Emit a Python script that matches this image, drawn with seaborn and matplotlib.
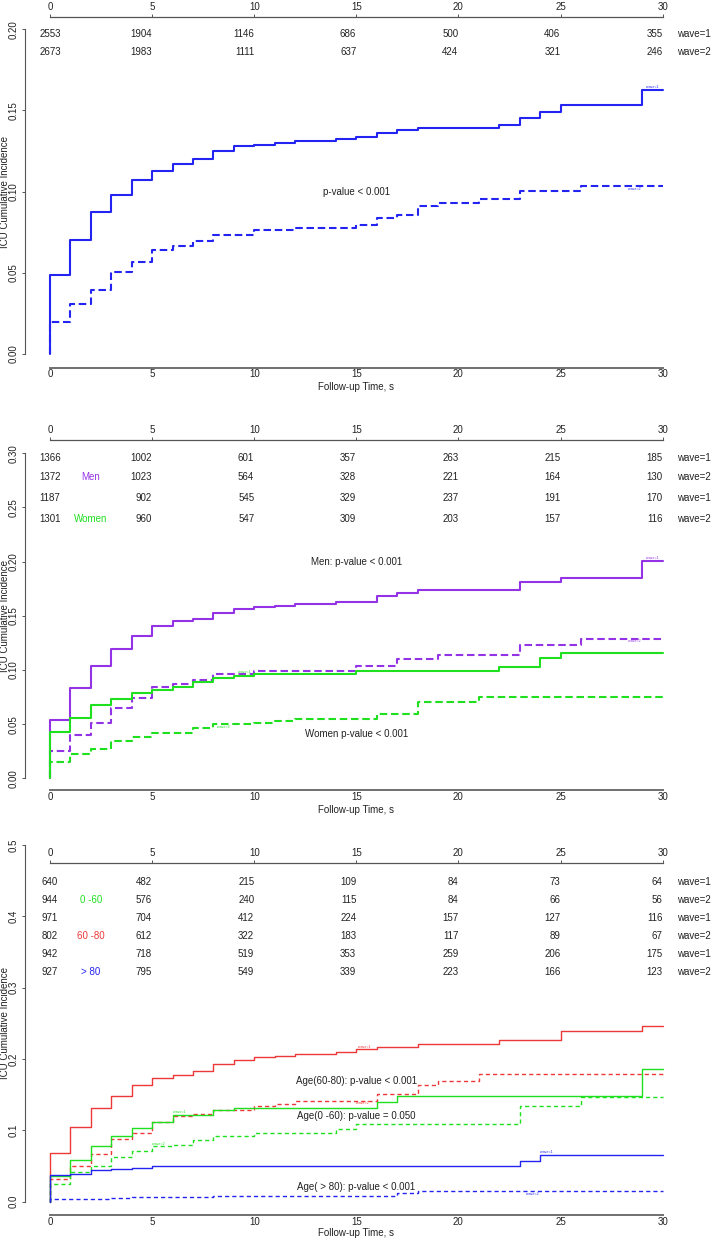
import matplotlib
matplotlib.use("Agg")
import matplotlib.pyplot as plt
import pandas as pd
import seaborn as sns

# ---------------- data ----------------
TIME_TICKS = [0, 5, 10, 15, 20, 25, 30]
T_END = 30

# Panel 1 : all patients
p1_w1_t = [0, 1, 2, 3, 4, 5, 6, 7, 8, 9, 10, 11, 12, 14, 15, 16, 17, 18, 22, 23, 24, 25, 29]
p1_w1_v = [0.0486, 0.0702, 0.0874, 0.098, 0.107, 0.113, 0.117, 0.120, 0.125, 0.128, 0.129, 0.130,
           0.131, 0.1325, 0.1335, 0.1362, 0.1377, 0.1393, 0.1409, 0.1451, 0.1492, 0.1531, 0.1625]
p1_w2_t = [0, 1, 2, 3, 4, 5, 6, 7, 8, 10, 12, 15, 16, 17, 18, 19, 21, 23, 26]
p1_w2_v = [0.020, 0.031, 0.0395, 0.0504, 0.0568, 0.064, 0.0665, 0.0695, 0.0733, 0.0761, 0.0778,
           0.0792, 0.0837, 0.0854, 0.0912, 0.0932, 0.0953, 0.1004, 0.1035]
p1_risk_w1 = [2553, 1904, 1146, 686, 500, 406, 355]
p1_risk_w2 = [2673, 1983, 1111, 637, 424, 321, 246]

# Panel 2 : by sex
men_w1_t = [0, 1, 2, 3, 4, 5, 6, 7, 8, 9, 10, 11, 12, 14, 16, 17, 18, 23, 25, 29]
men_w1_v = [0.0538, 0.083, 0.1037, 0.119, 0.1317, 0.1406, 0.1452, 0.1468, 0.153, 0.1563, 0.1578,
            0.1594, 0.1612, 0.163, 0.1683, 0.1714, 0.1738, 0.181, 0.1846, 0.2003]
men_w2_t = [0, 1, 2, 3, 4, 5, 6, 7, 8, 10, 15, 17, 19, 23, 26]
men_w2_v = [0.0252, 0.040, 0.0514, 0.0652, 0.0745, 0.084, 0.087, 0.0908, 0.096, 0.099, 0.1037,
            0.110, 0.1138, 0.123, 0.129]
wom_w1_t = [0, 1, 2, 3, 4, 5, 6, 7, 8, 9, 10, 15, 22, 24, 25]
wom_w1_v = [0.0425, 0.0554, 0.0674, 0.073, 0.079, 0.0818, 0.0846, 0.0886, 0.0929, 0.0948, 0.096,
            0.099, 0.1028, 0.1114, 0.116]
wom_w2_t = [0, 1, 2, 3, 4, 5, 7, 8, 10, 11, 12, 16, 18, 21]
wom_w2_v = [0.0148, 0.0222, 0.0268, 0.0345, 0.0385, 0.0422, 0.046, 0.0498, 0.0514, 0.053, 0.055,
            0.059, 0.070, 0.0754]
men_risk_w1 = [1366, 1002, 601, 357, 263, 215, 185]
men_risk_w2 = [1372, 1023, 564, 328, 221, 164, 130]
wom_risk_w1 = [1187, 902, 545, 329, 237, 191, 170]
wom_risk_w2 = [1301, 960, 547, 309, 203, 157, 116]

# Panel 3 : by age
a60_w1_t = [0, 1, 2, 3, 4, 5, 6, 8, 9, 16, 17, 29]
a60_w1_v = [0.036, 0.0587, 0.0776, 0.0915, 0.103, 0.1118, 0.1215, 0.1284, 0.1307, 0.14, 0.1478, 0.1857]
a60_w2_t = [0, 1, 2, 3, 4, 5, 6, 7, 8, 10, 14, 15, 23, 26]
a60_w2_v = [0.0254, 0.0416, 0.0499, 0.0624, 0.0716, 0.0776, 0.08, 0.0864, 0.0915, 0.0956, 0.1025,
            0.1095, 0.134, 0.1469]
a80_w1_t = [0, 1, 2, 3, 4, 5, 6, 7, 8, 9, 10, 11, 12, 14, 15, 16, 18, 22, 25, 29]
a80_w1_v = [0.0684, 0.1053, 0.1316, 0.1487, 0.164, 0.1732, 0.1769, 0.1834, 0.193, 0.1986, 0.2023,
            0.2042, 0.207, 0.2092, 0.2134, 0.2171, 0.2217, 0.2273, 0.2393, 0.2457]
a80_w2_t = [0, 1, 2, 3, 4, 5, 6, 7, 8, 10, 11, 12, 16, 18, 19, 21]
a80_w2_v = [0.0323, 0.0499, 0.067, 0.0878, 0.097, 0.1122, 0.12, 0.1224, 0.1284, 0.134, 0.1376,
            0.1418, 0.1515, 0.163, 0.1695, 0.1788]
aold_w1_t = [0, 1, 2, 3, 4, 5, 23, 24]
aold_w1_v = [0.037, 0.0393, 0.0448, 0.0462, 0.0476, 0.0494, 0.0568, 0.0656]
aold_w2_t = [0, 2, 3, 4, 8, 17, 18]
aold_w2_v = [0.0032, 0.0042, 0.005, 0.0065, 0.0079, 0.0115, 0.0152]
a60_risk_w1 = [640, 482, 215, 109, 84, 73, 64]
a60_risk_w2 = [944, 576, 240, 115, 84, 66, 56]
a80_risk_w1 = [971, 704, 412, 224, 157, 127, 116]
a80_risk_w2 = [802, 612, 322, 183, 117, 89, 67]
aold_risk_w1 = [942, 718, 519, 353, 259, 206, 175]
aold_risk_w2 = [927, 795, 549, 339, 223, 166, 123]

P1_YTICKS = [0.00, 0.05, 0.10, 0.15, 0.20]
P2_YTICKS = [0.00, 0.05, 0.10, 0.15, 0.20, 0.25, 0.30]
P3_YTICKS = [0.0, 0.1, 0.2, 0.3, 0.4, 0.5]

# ---------------- style ----------------
BLUE = "#2323F2"
PURPLE = "#9433E6"
GREEN = "#1EE01E"
RED = "#EE3838"
AXC = "#555555"
FS = 7.0
TINY = 2.6

sns.set_theme(style="white")
plt.rcParams["font.family"] = ["Liberation Sans", "DejaVu Sans"]

W, H = 712, 1240
fig = plt.figure(figsize=(W / 100, H / 100), dpi=100)

X0_PX, PX_PER_T = 50.0, 20.42
AX_L_PX, AX_R_PX = 25.0, 672.0


def step_frame(t, v):
    tt = [0] + list(t) + [T_END]
    vv = [0.0] + list(v) + [v[-1]]
    return pd.DataFrame({"time": tt, "cif": vv})


def make_panel(p0, p_toptick, ytick_max, bottom_px, topaxis_px, xlabel_px, yticks, fmt):
    k = (p0 - p_toptick) / ytick_max
    top_px = min(topaxis_px, p_toptick) - 1.5
    ax = fig.add_axes([AX_L_PX / W, 1 - bottom_px / H,
                       (AX_R_PX - AX_L_PX) / W, (bottom_px - top_px) / H])
    ax.set_xlim((AX_L_PX - X0_PX) / PX_PER_T, (AX_R_PX - X0_PX) / PX_PER_T)
    ax.set_ylim((p0 - bottom_px) / k, (p0 - top_px) / k)
    ax.set_facecolor("white")
    for s in ("top", "right"):
        ax.spines[s].set_visible(False)
    ax.spines["left"].set_bounds(0, ytick_max)
    ax.spines["left"].set_color(AXC)
    ax.spines["left"].set_linewidth(0.8)
    ax.spines["bottom"].set_bounds(0, T_END)
    ax.spines["bottom"].set_color("#707070")
    ax.spines["bottom"].set_linewidth(1.4)
    ax.set_yticks(yticks)
    ax.set_yticklabels([fmt.format(y) for y in yticks])
    ax.tick_params(axis="y", left=True, direction="out", length=2.5, width=0.7, color=AXC,
                   pad=2, labelsize=FS, labelrotation=90, labelcolor="#222222")
    for lab in ax.get_yticklabels():
        lab.set_verticalalignment("center")
    ax.set_xticks(TIME_TICKS)
    ax.tick_params(axis="x", bottom=True, length=0, pad=1.2, labelsize=FS, labelcolor="#222222")
    hpx = bottom_px - top_px
    sec = ax.secondary_xaxis((bottom_px - topaxis_px) / hpx)
    sec.set_xticks(TIME_TICKS)
    sec.tick_params(axis="x", top=True, direction="out", length=2.3, width=0.7, color=AXC,
                    pad=1.6, labelsize=FS, labelcolor="#222222")
    sec.spines["top"].set_bounds(0, T_END)
    sec.spines["top"].set_color(AXC)
    sec.spines["top"].set_linewidth(0.9)
    ax.set_xlabel("Follow-up Time, s", fontsize=FS, color="#222222", va="center")
    ax.xaxis.set_label_coords((X0_PX + 15 * PX_PER_T - AX_L_PX) / (AX_R_PX - AX_L_PX),
                              -(xlabel_px - bottom_px) / hpx)
    ax.set_ylabel("ICU Cumulative Incidence", fontsize=FS, color="#222222", va="center")
    mid_px = (p0 + p_toptick) / 2
    ax.yaxis.set_label_coords((5 - AX_L_PX) / (AX_R_PX - AX_L_PX), (bottom_px - mid_px) / hpx)

    def ypix(p):
        return (p0 - p) / k
    return ax, ypix


def curve(ax, t, v, color, lw, dashed, dash):
    ls = (0, dash) if dashed else "-"
    sns.lineplot(data=step_frame(t, v), x="time", y="cif", estimator=None, sort=False,
                 drawstyle="steps-post", color=color, linewidth=lw, linestyle=ls, ax=ax)


def risk_row(ax, y, counts, wave):
    for t, n in zip(TIME_TICKS, counts):
        ax.text(t, y, str(n), ha="center" if t == 0 else "right", va="center",
                fontsize=FS, color="#222222")
    ax.text(30.7, y, f"wave={wave}", ha="left", va="center", fontsize=FS, color="#222222",
            clip_on=False)


def tiny(ax, x, y, s, color, va):
    ax.text(x, y, s, fontsize=TINY, color=color, ha="left", va=va)


# ---------------- panel 1 ----------------
ax1, yp1 = make_panel(354.0, 29.3, 0.20, 367.5, 17.0, 387.0, P1_YTICKS, "{:.2f}")
curve(ax1, p1_w1_t, p1_w1_v, BLUE, 1.5, False, None)
curve(ax1, p1_w2_t, p1_w2_v, BLUE, 1.5, True, (3.6, 1.8))
risk_row(ax1, yp1(34.0), p1_risk_w1, 1)
risk_row(ax1, yp1(52.0), p1_risk_w2, 2)
ax1.text(15, yp1(192.0), "p-value < 0.001", ha="center", va="center", fontsize=FS, color="#222222")
tiny(ax1, 29.2, p1_w1_v[-1] + 0.0008, "wave=1", BLUE, "bottom")
tiny(ax1, 28.3, p1_w2_v[-1] - 0.0008, "wave=2", BLUE, "top")

# ---------------- panel 2 ----------------
ax2, yp2 = make_panel(778.3, 453.3, 0.30, 790.0, 440.0, 810.0, P2_YTICKS, "{:.2f}")
curve(ax2, men_w1_t, men_w1_v, PURPLE, 1.5, False, None)
curve(ax2, men_w2_t, men_w2_v, PURPLE, 1.5, True, (3.6, 1.8))
curve(ax2, wom_w1_t, wom_w1_v, GREEN, 1.5, False, None)
curve(ax2, wom_w2_t, wom_w2_v, GREEN, 1.5, True, (3.6, 1.8))
risk_row(ax2, yp2(458.3), men_risk_w1, 1)
risk_row(ax2, yp2(477.0), men_risk_w2, 2)
risk_row(ax2, yp2(497.8), wom_risk_w1, 1)
risk_row(ax2, yp2(519.0), wom_risk_w2, 2)
ax2.text(2, yp2(477.0), "Men", ha="center", va="center", fontsize=FS, color=PURPLE)
ax2.text(2, yp2(519.0), "Women", ha="center", va="center", fontsize=FS, color=GREEN)
ax2.text(15, yp2(562.0), "Men: p-value < 0.001", ha="center", va="center", fontsize=FS, color="#222222")
ax2.text(15, yp2(734.0), "Women p-value < 0.001", ha="center", va="center", fontsize=FS, color="#222222")
tiny(ax2, 29.2, men_w1_v[-1] + 0.0008, "wave=1", PURPLE, "bottom")
tiny(ax2, 28.3, men_w2_v[-1] - 0.0008, "wave=2", PURPLE, "top")
tiny(ax2, 9.2, 0.0965, "wave=1", GREEN, "bottom")
tiny(ax2, 8.2, 0.0492, "wave=2", GREEN, "top")

# ---------------- panel 3 ----------------
ax3, yp3 = make_panel(1201.7, 845.0, 0.50, 1215.0, 863.3, 1233.3, P3_YTICKS, "{:.1f}")
curve(ax3, a80_w1_t, a80_w1_v, RED, 1.0, False, None)
curve(ax3, a80_w2_t, a80_w2_v, RED, 1.0, True, (3.0, 2.2))
curve(ax3, a60_w1_t, a60_w1_v, GREEN, 1.0, False, None)
curve(ax3, a60_w2_t, a60_w2_v, GREEN, 1.0, True, (3.0, 2.2))
curve(ax3, aold_w1_t, aold_w1_v, BLUE, 1.0, False, None)
curve(ax3, aold_w2_t, aold_w2_v, BLUE, 1.0, True, (3.0, 2.2))
rows3 = [(a60_risk_w1, 1), (a60_risk_w2, 2), (a80_risk_w1, 1), (a80_risk_w2, 2),
         (aold_risk_w1, 1), (aold_risk_w2, 2)]
for i, (cnt, wv) in enumerate(rows3):
    risk_row(ax3, yp3(882.0 + 18.0 * i), cnt, wv)
ax3.text(2, yp3(900.0), "0 -60", ha="center", va="center", fontsize=FS, color=GREEN)
ax3.text(2, yp3(936.0), "60 -80", ha="center", va="center", fontsize=FS, color=RED)
ax3.text(2, yp3(972.0), "> 80", ha="center", va="center", fontsize=FS, color=BLUE)
ax3.text(15, 0.1695, "Age(60-80): p-value < 0.001", ha="center", va="center", fontsize=FS, color="#222222")
ax3.text(15, 0.120, "Age(0 -60): p-value = 0.050", ha="center", va="center", fontsize=FS, color="#222222")
ax3.text(15, 0.0208, "Age( > 80): p-value < 0.001", ha="center", va="center", fontsize=FS, color="#222222")
tiny(ax3, 15.1, 0.2145, "wave=1", RED, "bottom")
tiny(ax3, 15.0, 0.1405, "wave=2", RED, "top")
tiny(ax3, 6.0, 0.1225, "wave=1", GREEN, "bottom")
tiny(ax3, 5.0, 0.078, "wave=2", GREEN, "bottom")
tiny(ax3, 24.0, 0.0665, "wave=1", BLUE, "bottom")
tiny(ax3, 23.3, 0.0140, "wave=2", BLUE, "top")

fig.savefig("out.png", dpi=100, facecolor="white")
